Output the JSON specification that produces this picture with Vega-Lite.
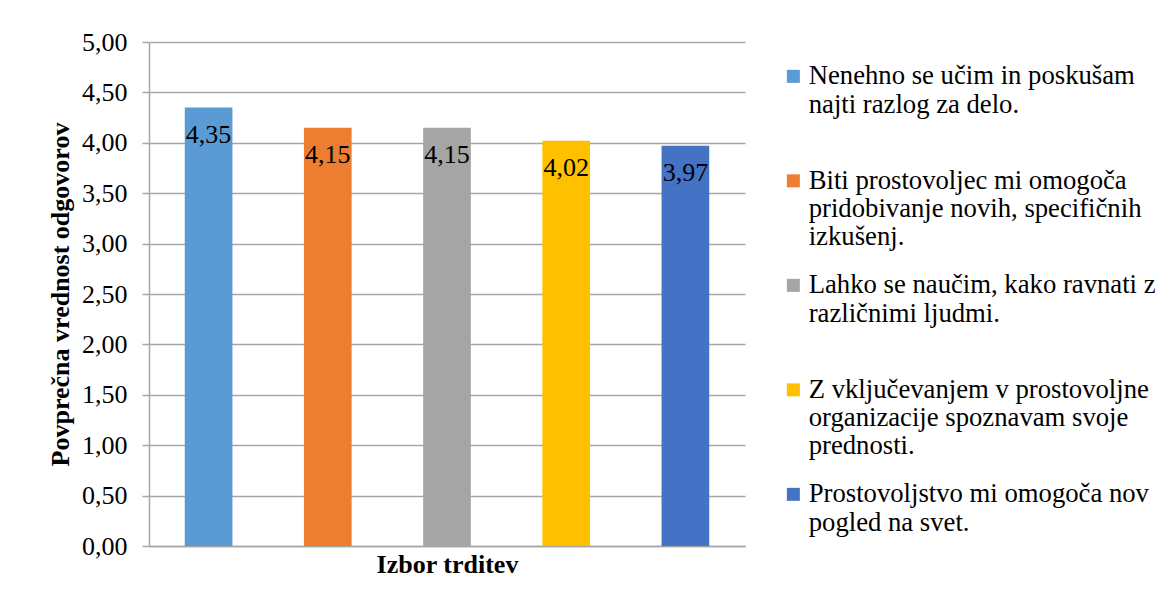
{
  "$schema": "https://vega.github.io/schema/vega-lite/v6.json",
  "width": 596,
  "height": 504,
  "autosize": {"type": "none"},
  "padding": {"left": 149, "top": 42, "right": 424, "bottom": 59},
  "background": "white",
  "config": {
    "font": "Liberation Serif",
    "text": {"font": "Liberation Serif"},
    "axis": {"labelFont": "Liberation Serif", "titleFont": "Liberation Serif"},
    "legend": {"labelFont": "Liberation Serif", "titleFont": "Liberation Serif"},
    "view": {"stroke": null},
    "locale": {"number": {"decimal": ",", "thousands": ".", "grouping": [3], "currency": ["", " €"]}}
  },
  "data": {
    "values": [
      {"trditev": "Nenehno se učim in poskušam najti razlog za delo.", "vrednost": 4.35},
      {"trditev": "Biti prostovoljec mi omogoča pridobivanje novih, specifičnih izkušenj.", "vrednost": 4.15},
      {"trditev": "Lahko se naučim, kako ravnati z različnimi ljudmi.", "vrednost": 4.15},
      {"trditev": "Z vključevanjem v prostovoljne organizacije spoznavam svoje prednosti.", "vrednost": 4.02},
      {"trditev": "Prostovoljstvo mi omogoča nov pogled na svet.", "vrednost": 3.97}
    ]
  },
  "encoding": {
    "x": {
      "field": "trditev",
      "type": "nominal",
      "sort": null,
      "scale": {"paddingInner": 0.6, "paddingOuter": 0.3},
      "axis": {
        "title": "Izbor trditev",
        "titleFont": "Liberation Serif",
        "titleFontSize": 26,
        "titleFontWeight": "bold",
        "titleColor": "#000000",
        "titlePadding": 5,
        "labels": false,
        "ticks": false,
        "domain": true,
        "domainColor": "#a6a6a6",
        "domainWidth": 1.5
      }
    },
    "y": {
      "field": "vrednost",
      "type": "quantitative",
      "scale": {"domain": [0, 5], "nice": false},
      "axis": {
        "title": "Povprečna vrednost odgovorov",
        "titleFont": "Liberation Serif",
        "titleFontSize": 26,
        "titleFontWeight": "bold",
        "titleColor": "#000000",
        "titlePadding": 8,
        "values": [0, 0.5, 1, 1.5, 2, 2.5, 3, 3.5, 4, 4.5, 5],
        "format": ".2f",
        "labelFont": "Liberation Serif",
        "labelFontSize": 26,
        "labelColor": "#000000",
        "labelPadding": 15,
        "tickSize": 7,
        "tickColor": "#a6a6a6",
        "tickWidth": 1.5,
        "domainColor": "#a6a6a6",
        "domainWidth": 1.5,
        "grid": true,
        "gridColor": "#a6a6a6",
        "gridWidth": 1.5
      }
    }
  },
  "layer": [
    {
      "mark": {"type": "bar"},
      "encoding": {
        "color": {
          "field": "trditev",
          "type": "nominal",
          "scale": {
            "domain": [
              "Nenehno se učim in poskušam najti razlog za delo.",
              "Biti prostovoljec mi omogoča pridobivanje novih, specifičnih izkušenj.",
              "Lahko se naučim, kako ravnati z različnimi ljudmi.",
              "Z vključevanjem v prostovoljne organizacije spoznavam svoje prednosti.",
              "Prostovoljstvo mi omogoča nov pogled na svet."
            ],
            "range": ["#5B9BD5", "#ED7D31", "#A5A5A5", "#FFC000", "#4472C4"]
          },
          "legend": {
            "title": null,
            "orient": "none",
            "legendX": 631,
            "legendY": 21,
            "padding": 0,
            "gridAlign": "all",
            "rowPadding": 20.5,
            "symbolType": "square",
            "symbolSize": 169,
            "symbolStrokeWidth": 0,
            "labelOffset": 2,
            "labelFont": "Liberation Serif",
            "labelFontSize": 26.7,
            "labelColor": "#000000",
            "labelLimit": 500,
            "labelBaseline": "alphabetic",
            "labelExpr": "datum.label == 'Nenehno se učim in poskušam najti razlog za delo.' ? ['Nenehno se učim in poskušam', 'najti razlog za delo.'] : datum.label == 'Biti prostovoljec mi omogoča pridobivanje novih, specifičnih izkušenj.' ? ['Biti prostovoljec mi omogoča', 'pridobivanje novih, specifičnih', 'izkušenj.'] : datum.label == 'Lahko se naučim, kako ravnati z različnimi ljudmi.' ? ['Lahko se naučim, kako ravnati z', 'različnimi ljudmi.'] : datum.label == 'Z vključevanjem v prostovoljne organizacije spoznavam svoje prednosti.' ? ['Z vključevanjem v prostovoljne', 'organizacije spoznavam svoje', 'prednosti.'] : ['Prostovoljstvo mi omogoča nov', 'pogled na svet.']",
            "encode": {
              "labels": {"update": {"dy": {"value": 8}, "lineHeight": {"value": 28.3}, "font": {"value": "Liberation Serif"}}}
            }
          }
        }
      }
    },
    {
      "mark": {"type": "text", "baseline": "middle", "align": "center", "dy": 27, "font": "Liberation Serif", "fontSize": 26, "color": "#000000"},
      "encoding": {
        "text": {"field": "vrednost", "type": "quantitative", "format": ".2f"}
      }
    }
  ]
}
